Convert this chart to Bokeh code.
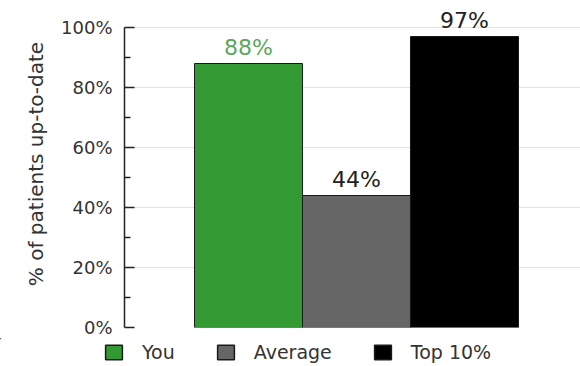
from bokeh.plotting import figure
from bokeh.models import Range1d, ColumnDataSource, Legend, LegendItem, PrintfTickFormatter, FixedTicker
from bokeh.core.properties import value
from bokeh.embed import file_html
from bokeh.resources import INLINE

categories = ["You", "Average", "Top 10%"]
values = [88, 44, 97]
colors = ["#339933", "#666666", "#000000"]
label_colors = ["#5aa85a", "#222222", "#222222"]
y_ticks = [0, 20, 40, 60, 80, 100]
y_minor = [10, 30, 50, 70, 90]

FONT = "DejaVu Sans"

p = figure(width=580, height=338, output_backend="svg", toolbar_location=None,
           x_range=Range1d(-1.148, 3.074), y_range=Range1d(0, 109),
           min_border_left=124, min_border_right=0, min_border_top=0, min_border_bottom=11)
p.outline_line_color = None
p.background_fill_color = "white"
p.border_fill_color = "white"

xs = list(range(len(categories)))
src = ColumnDataSource(dict(x=xs, top=values, color=colors, cat=categories,
                            lab=[f"{v}%" for v in values], lc=label_colors))
p.vbar(x="x", top="top", width=1.0, bottom=0, source=src,
       fill_color="color", line_color="#1a1a1a", line_width=1)

p.text(x="x", y="top", text="lab", source=src, text_color="lc",
       text_font=value(FONT), text_font_size="22px", text_align="center",
       text_baseline="bottom", y_offset=-4)

p.xaxis.visible = False
p.xgrid.visible = False
p.ygrid.ticker = FixedTicker(ticks=y_ticks)
p.ygrid.grid_line_color = "#e2e2e2"
p.ygrid.grid_line_width = 1

ya = p.yaxis[0]
ya.ticker = FixedTicker(ticks=y_ticks, minor_ticks=y_minor)
ya.formatter = PrintfTickFormatter(format="%d%%")
ya.bounds = (0, 100)
ya.axis_line_color = "#222222"
ya.axis_line_width = 1.5
ya.major_tick_in = 10
ya.major_tick_out = 0
ya.minor_tick_in = 6
ya.minor_tick_out = 0
ya.major_tick_line_color = "#222222"
ya.minor_tick_line_color = "#222222"
ya.major_tick_line_width = 1.5
ya.minor_tick_line_width = 1.5
ya.major_label_standoff = 12
ya.major_label_text_font = FONT
ya.major_label_text_font_size = "18px"
ya.major_label_text_color = "#333333"
ya.axis_label = "% of patients up-to-date"
ya.axis_label_text_font = FONT
ya.axis_label_text_font_size = "20px"
ya.axis_label_text_font_style = "normal"
ya.axis_label_text_color = "#333333"
ya.axis_label_standoff = 10

# legend strip below the chart (its bars lie outside the visible range; only legend swatches show)
p2 = figure(width=580, height=28, output_backend="svg", toolbar_location=None,
            x_axis_location=None, y_axis_location=None,
            x_range=Range1d(5, 6), y_range=Range1d(-6, -5),
            min_border_left=0, min_border_right=0, min_border_top=0, min_border_bottom=0)
p2.grid.visible = False
p2.outline_line_color = None
items = []
for i, (cat, col) in enumerate(zip(categories, colors)):
    r = p2.vbar(x=[xs[i]], top=[values[i]], width=1.0, bottom=0,
                fill_color=col, line_color="#1a1a1a", line_width=1.5)
    items.append(LegendItem(label=cat, renderers=[r]))
legend = Legend(items=items, orientation="horizontal", location=(103, 3),
                glyph_width=21, glyph_height=18, label_height=18, label_standoff=18, spacing=40,
                padding=0, margin=0, border_line_color=None, background_fill_alpha=0,
                label_text_font=FONT, label_text_font_size="19px", label_text_color="#333333")
p2.add_layout(legend, "center")

open("out.html", "w").write(file_html((p, p2), INLINE))
